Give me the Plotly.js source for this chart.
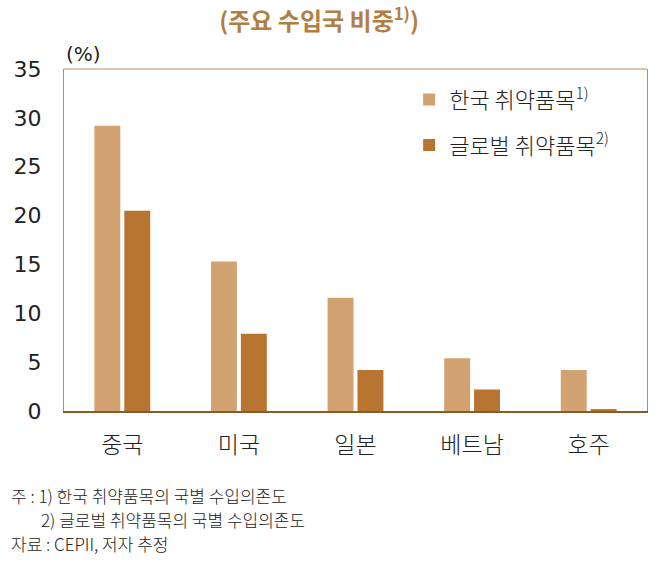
<!DOCTYPE html>
<html><head><meta charset="utf-8">
<script src="https://cdn.plot.ly/plotly-3.0.1.min.js"></script>
<style>body{margin:0;background:#fff}#chart{width:658px;height:562px}</style>
</head><body><div id="chart"></div>
<script>
const categories = ['중국', '미국', '일본', '베트남', '호주'];
const koreaValues = [29.2, 15.3, 11.6, 5.4, 4.2];
const globalValues = [20.5, 7.9, 4.2, 2.2, 0.2];
const seriesNames = ['한국 취약품목<sup>1)</sup>', '글로벌 취약품목<sup>2)</sup>'];
const yTicks = [0, 5, 10, 15, 20, 25, 30, 35];

const NFONT = 'DejaVu Sans, sans-serif';
const KFONT = 'Noto Sans CJK KR, sans-serif';

const traces = [
  {type: 'bar', x: categories, y: koreaValues, name: seriesNames[0], legendgroup: 'a',
   marker: {color: '#d2a271'}, hoverinfo: 'none'},
  {type: 'bar', x: categories, y: globalValues, name: seriesNames[1], legendgroup: 'b',
   marker: {color: '#b87532'}, hoverinfo: 'none'}
];

const layout = {
  width: 658, height: 562,
  margin: {l: 64, r: 11, t: 69, b: 151},
  paper_bgcolor: '#fff', plot_bgcolor: '#fff',
  font: {family: KFONT, color: '#222'},
  title: {text: '<b>(주요 수입국 비중<sup>1)</sup>)</b>', x: 0.485, xanchor: 'center', y: 0.961, yanchor: 'middle',
          font: {family: KFONT, size: 24, color: '#b37e42'}},
  barmode: 'group', bargap: 0.487, bargroupgap: 0.133,
  showlegend: true,
  legend: {x: 0.592, y: 0.972, xanchor: 'left', yanchor: 'top', bgcolor: 'rgba(0,0,0,0)',
           font: {family: KFONT, size: 22, color: '#222', weight: 300}, tracegroupgap: 14, itemwidth: 30,
           traceorder: 'grouped'},
  xaxis: {type: 'category', showline: true, linecolor: '#8a5a2b', linewidth: 2, mirror: false,
          ticks: '', ticklabelstandoff: 12, tickfont: {family: KFONT, size: 23, color: '#222', weight: 300},
          showgrid: false, zeroline: false},
  yaxis: {range: [0, 35], tickvals: yTicks, ticktext: yTicks.map(String), showgrid: false, zeroline: false,
          showline: true, mirror: true, linecolor: '#b58e66', linewidth: 1.2, ticks: '', ticklabelstandoff: 17,
          tickfont: {family: NFONT, size: 22, color: '#222'}},
  shapes: [
    {type: 'line', xref: 'paper', yref: 'paper', x0: 0, x1: 1, y0: 1, y1: 1, line: {color: '#b58e66', width: 1.2}}
  ],
  annotations: [
    {text: '(%)', xref: 'paper', yref: 'paper', x: 0.0, y: 1.0, xanchor: 'left', yanchor: 'bottom', yshift: 1,
     showarrow: false, font: {family: NFONT, size: 20, color: '#222'}},
    {text: '주 : 1) 한국 취약품목의 국별 수입의존도', xref: 'paper', yref: 'paper', x: -0.095, y: -0.248,
     xanchor: 'left', yanchor: 'middle', showarrow: false, font: {family: KFONT, size: 17, color: '#222', weight: 300}},
    {text: '2) 글로벌 취약품목의 국별 수입의존도', xref: 'paper', yref: 'paper', x: -0.043, y: -0.318,
     xanchor: 'left', yanchor: 'middle', showarrow: false, font: {family: KFONT, size: 17, color: '#222', weight: 300}},
    {text: '자료 : CEPII, 저자 추정', xref: 'paper', yref: 'paper', x: -0.095, y: -0.388,
     xanchor: 'left', yanchor: 'middle', showarrow: false, font: {family: KFONT, size: 17, color: '#222', weight: 300}}
  ]
};

Plotly.newPlot('chart', traces, layout, {displayModeBar: false, staticPlot: true});
</script></body></html>
